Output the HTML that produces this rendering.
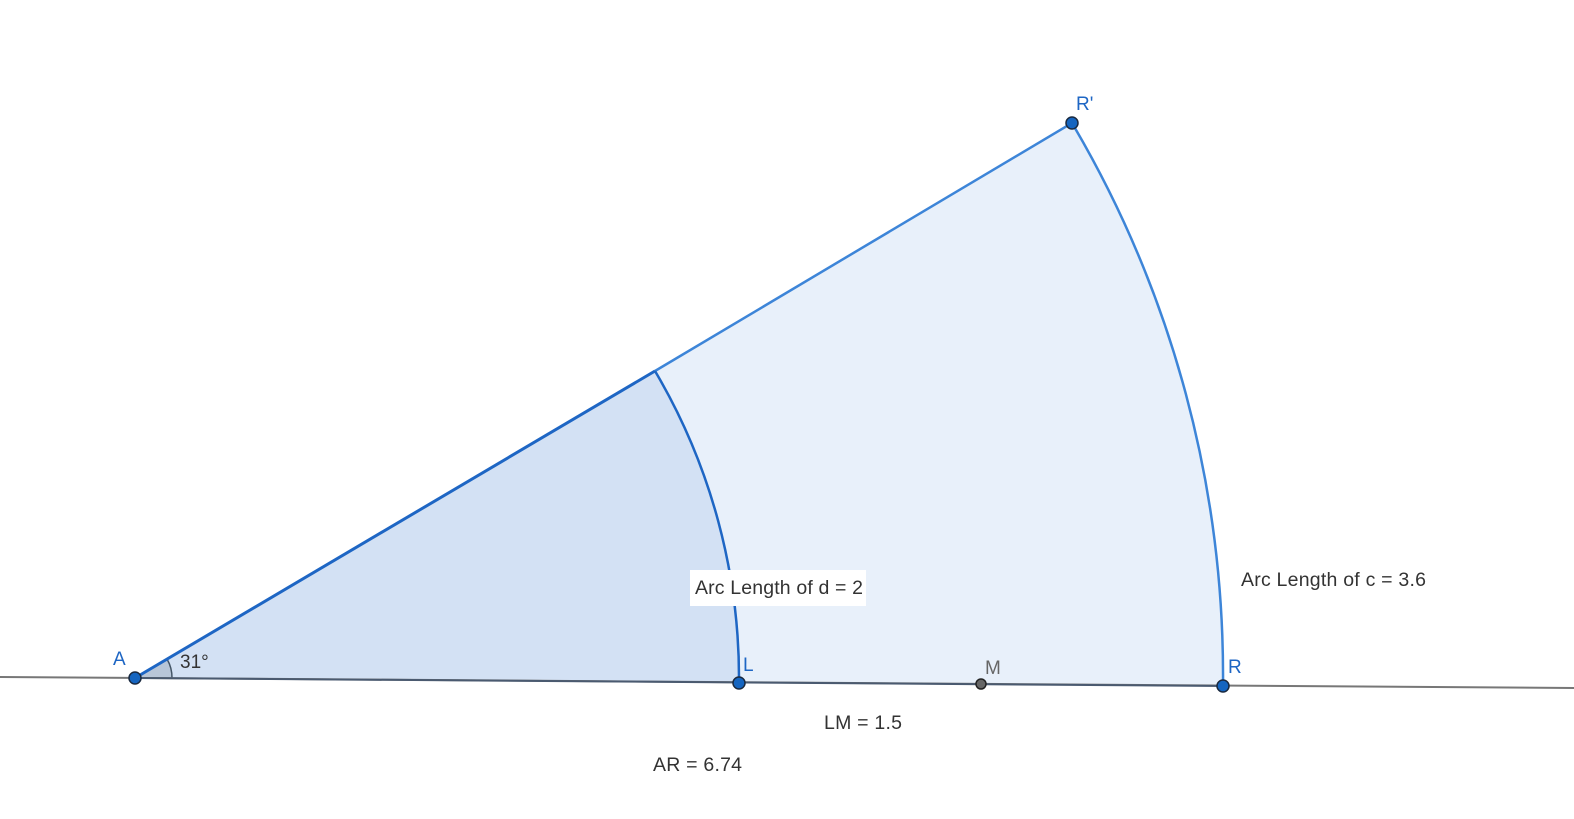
<!DOCTYPE html>
<html><head><meta charset="utf-8"><style>
html,body{margin:0;padding:0;background:#fff;}
svg{display:block;font-family:"Liberation Sans",sans-serif;}
</style></head><body>
<svg width="1574" height="819" viewBox="0 0 1574 819">
  <path d="M135,678 L1223,686 A1088,1088 0 0 0 1072,123 Z" fill="#e8f0fa" stroke="none"/>
  <path d="M135,678 L739,683 A604,604 0 0 0 655,371 Z" fill="#d3e1f4" stroke="none"/>
  <path d="M135,678 L172,678.3 A37,37 0 0 0 167,659 Z" fill="#b8c6d8" stroke="#445566" stroke-width="1.5"/>
  <line x1="0" y1="677" x2="1574" y2="688" stroke="#777" stroke-width="2"/>
  <line x1="135" y1="678" x2="1223" y2="686" stroke="#4a5a70" stroke-width="2"/>
  <line x1="655" y1="371" x2="1072" y2="123" stroke="#3d85d8" stroke-width="2.5"/>
  <line x1="135" y1="678" x2="655" y2="371" stroke="#1e66c4" stroke-width="3"/>
  <path d="M1223,686 A1088,1088 0 0 0 1072,123" fill="none" stroke="#3d85d8" stroke-width="2.5"/>
  <path d="M739,683 A604,604 0 0 0 655,371" fill="none" stroke="#1e66c4" stroke-width="2.5"/>
  <rect x="690" y="570" width="176" height="36" fill="#fff"/>
  <text x="695" y="594" font-size="19.5" textLength="168" fill="#333">Arc Length of d = 2</text>
  <text x="1241" y="586" font-size="19.5" textLength="185" fill="#333">Arc Length of c = 3.6</text>
  <text x="824" y="729" font-size="19.5" textLength="78" fill="#333">LM = 1.5</text>
  <text x="653" y="771" font-size="19.5" textLength="89" fill="#333">AR = 6.74</text>
  <text x="180" y="668" font-size="19" fill="#333">31°</text>
  <circle cx="135" cy="678" r="6" fill="#1565c0" stroke="#1a2a40" stroke-width="1.5"/>
  <circle cx="739" cy="683" r="6" fill="#1565c0" stroke="#1a2a40" stroke-width="1.5"/>
  <circle cx="981" cy="684" r="5" fill="#666" stroke="#222" stroke-width="1.5"/>
  <circle cx="1223" cy="686" r="6" fill="#1565c0" stroke="#1a2a40" stroke-width="1.5"/>
  <circle cx="1072" cy="123" r="6" fill="#1565c0" stroke="#1a2a40" stroke-width="1.5"/>
  <text x="113" y="665" font-size="19" fill="#1e66c4">A</text>
  <text x="743" y="671" font-size="19" fill="#1e66c4">L</text>
  <text x="985" y="674" font-size="19" fill="#666">M</text>
  <text x="1228" y="673" font-size="19" fill="#1e66c4">R</text>
  <text x="1076" y="110" font-size="19" fill="#1e66c4">R'</text>
</svg>
</body></html>
